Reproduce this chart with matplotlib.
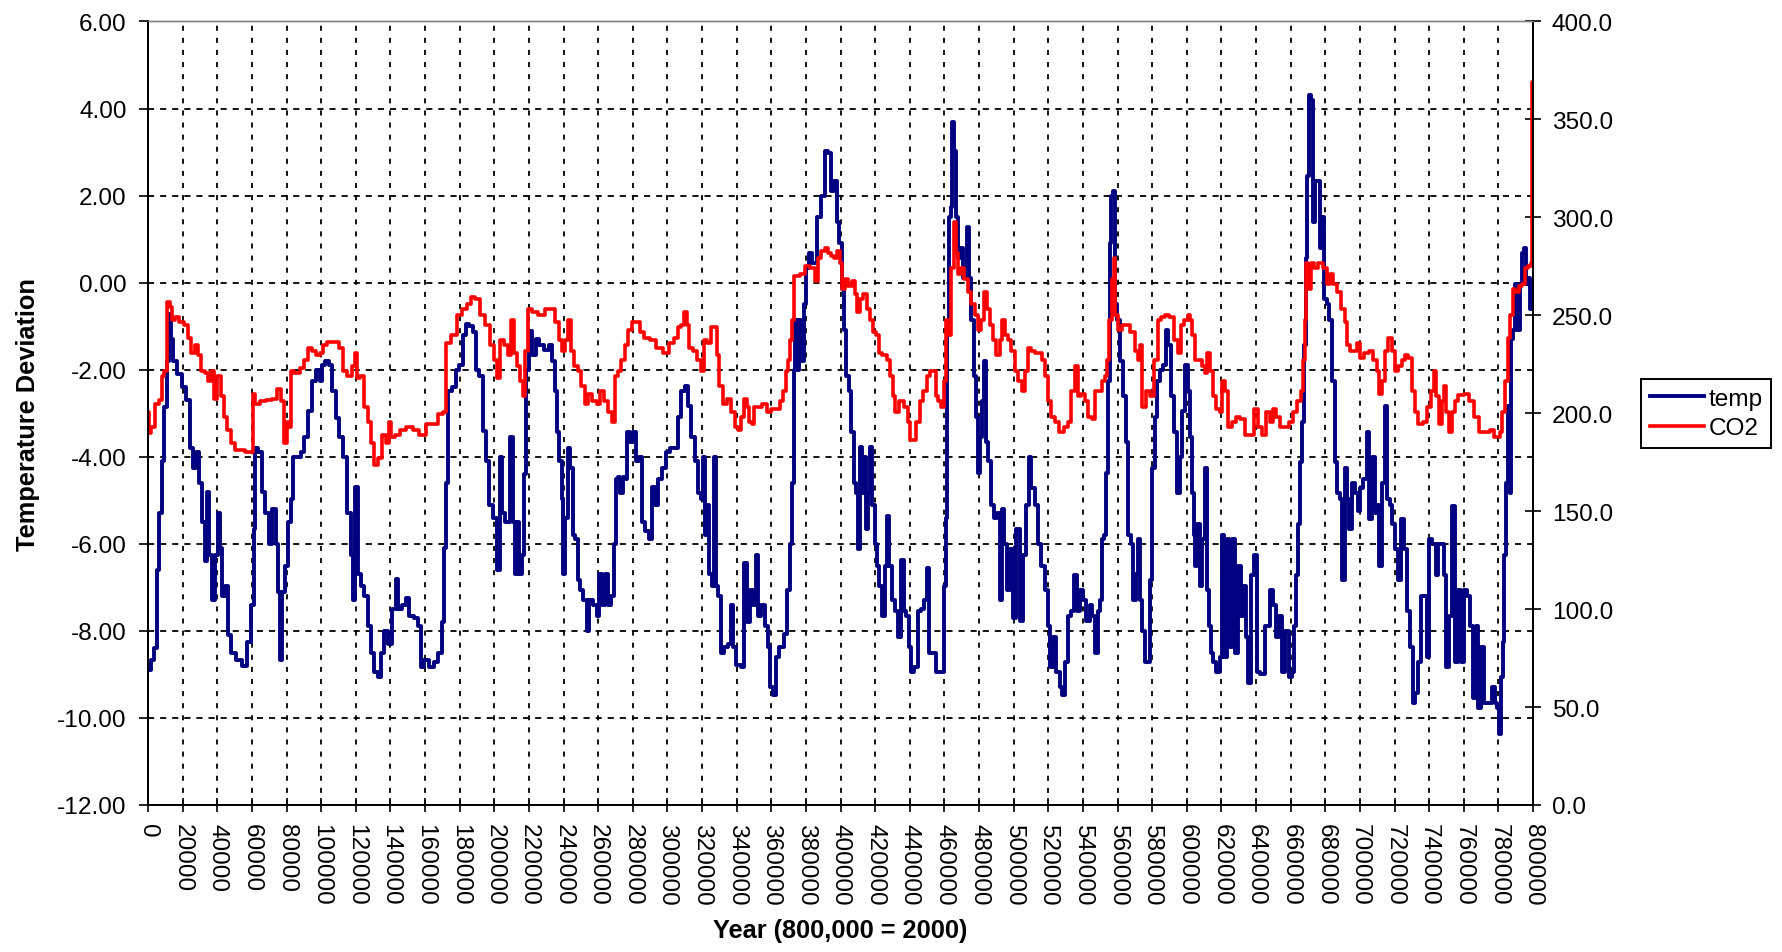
import matplotlib
matplotlib.use('Agg')
import matplotlib.pyplot as plt
from matplotlib.ticker import MultipleLocator, FormatStrFormatter

plt.rcParams['font.family'] = ['Liberation Sans', 'DejaVu Sans']

# temperature deviation (year, deg)
temp_year = [
    0, 2900, 4400, 5800, 7100, 8700, 10200, 11500, 12900, 13800, 15400, 17900, 21200, 23000,
    25000, 26900, 28800, 30200, 32100, 33700, 34600, 36000, 37500, 39400, 41000, 42300, 43600,
    45200, 46700, 49000, 52900, 55800, 58700, 60600, 61500, 62500, 64800, 66700, 68700, 70600,
    73100, 74600, 76000, 76900, 78300, 79800, 81700, 83300, 84600, 87500, 89400, 91300, 93700,
    96200, 98100, 100000, 101000, 103300, 105200, 107100, 109600, 111500, 113500, 116000,
    117900, 118300, 120200, 122100, 124000, 126000, 127900, 129800, 131700, 133700, 135600,
    137500, 139400, 142300, 143700, 145200, 148100, 150000, 151900, 154800, 156700, 158300,
    160600, 163500, 166300, 169200, 170600, 171700, 172500, 174000, 176900, 178800, 180800,
    182700, 184200, 186500, 188500, 190400, 192300, 194200, 196200, 198100, 200400, 202300,
    203700, 205200, 206700, 208100, 210000, 211000, 212500, 213800, 215200, 216700, 217700,
    219000, 220500, 222900, 224800, 227300, 230200, 232500, 234000, 235600, 236900, 238300,
    239400, 240200, 241700, 243300, 244600, 246000, 247500, 249000, 250400, 252300, 254200,
    255600, 258100, 260000, 261300, 263300, 264800, 266300, 268300, 269600, 270600, 272100,
    273500, 274800, 276300, 277300, 279200, 281100, 282500, 284400, 286000, 287900, 290800,
    291700, 293700, 295600, 298500, 300400, 302300, 305200, 307100, 308700, 311000, 312900,
    314800, 316700, 318700, 319600, 321000, 322100, 323500, 324800, 326300, 327300, 328700,
    330200, 331100, 333700, 336000, 337300, 338800, 340800, 343600, 345000, 346500, 348500,
    350400, 351700, 353300, 355200, 357100, 358700, 360000, 361900, 363500, 365800, 368300,
    370200, 371500, 372500, 373500, 374400, 375400, 376700, 378000, 379200, 381100, 382600,
    384900, 387500, 389800, 391700, 393700, 395200, 397100, 398700, 400000, 401200, 402500,
    403800, 405400, 406900, 408300, 409600, 410800, 411500, 412700, 414000, 415000, 416500,
    417900, 418800, 420400, 421700, 423100, 424600, 426200, 427500, 428500, 430400, 432700,
    434200, 435800, 437100, 438500, 440000, 441500, 443800, 445400, 447700, 449200, 450600,
    451500, 454400, 456300, 458800, 460200, 461200, 462100, 463100, 464000, 465000, 466500,
    467300, 468500, 469800, 471200, 472300, 473700, 475000, 476200, 477500, 478800, 480000,
    481300, 482300, 483300, 484200, 486200, 487700, 489600, 491500, 492300, 493800, 495400,
    497300, 498700, 500600, 502500, 504400, 506300, 508300, 509200, 511200, 513100, 515000,
    516900, 518800, 520800, 521700, 523700, 525600, 527500, 528800, 530400, 531900, 533800,
    535800, 537700, 539000, 541000, 542900, 544800, 546200, 547700, 549200, 550600, 551500,
    553100, 553900, 555000, 555800, 556900, 558300, 559200, 560200, 562100, 564100, 565400,
    567000, 568500, 569800, 571100, 572700, 573700, 575000, 576500, 578100, 579400, 580800,
    582300, 583300, 585200, 587100, 588500, 590000, 591500, 593400, 595400, 596700, 598100,
    599600, 601200, 602500, 603500, 604400, 605400, 606900, 608300, 609700, 611200, 612200,
    613100, 614700, 616000, 618000, 619900, 620800, 622400, 623700, 625100, 627000, 628200,
    630500, 632000, 633400, 634700, 635900, 637800, 639700, 641100, 644000, 646900, 648800,
    650800, 652100, 654100, 656000, 657900, 659800, 661400, 662400, 663300, 664900, 666200,
    667200, 668100, 669100, 670100, 671000, 672600, 673400, 674900, 676500, 677200, 678800,
    679700, 681700, 683000, 684600, 686100, 687500, 689400, 690300, 691900, 693200, 694600,
    696100, 698100, 699600, 701000, 702900, 704800, 706200, 707700, 709300, 710600, 711900,
    713500, 715100, 716400, 717800, 719300, 721200, 722800, 724700, 726600, 728000, 729900,
    731300, 732800, 734400, 735700, 737700, 739600, 740500, 742900, 744400, 745900, 747900,
    749300, 750600, 752500, 754100, 755600, 757500, 758900, 760800, 762700, 764700, 766000,
    767600, 769100, 771000, 772400, 775300, 777200, 778800, 780100, 781100, 782000, 783000,
    784000, 784900, 785900, 786900, 787800, 789200, 790300, 791700, 793100, 794200, 795600,
    796500, 798100, 798800, 799600,
]
temp_val = [
    -8.9, -8.66, -8.4, -6.6, -5.3, -4.1, -2.85, -1.8, -0.73, -1.3, -1.8, -2.1, -2.4, -2.7,
    -3.8, -4.25, -3.9, -4.6, -5.5, -6.4, -4.8, -6.25, -7.3, -6.25, -5.3, -6.1, -7.2,
    -6.96, -8.1, -8.5, -8.66, -8.8, -8.25, -7.4, -5.66, -3.8, -3.9, -4.8, -5.3, -6.0,
    -5.2, -6.0, -7.1, -8.66, -7.1, -6.5, -5.5, -4.96, -4.0, -4.0, -3.9, -3.55, -2.96,
    -2.25, -2.0, -2.25, -1.9, -1.8, -1.9, -2.5, -3.1, -3.55, -4.0, -5.3,
    -6.25, -7.3, -4.7, -6.7, -6.96, -7.2, -7.9, -8.5, -8.95, -9.07, -8.5,
    -8.0, -8.3, -7.5, -6.8, -7.5, -7.4, -7.25, -7.66, -7.7, -7.9, -8.84,
    -8.66, -8.84, -8.72, -8.5, -7.8, -6.1, -4.6, -2.5, -2.4, -2.0, -1.9,
    -1.2, -0.96, -1.0, -1.14, -2.0, -2.14, -3.4, -4.1, -5.1, -5.4, -6.6,
    -4.0, -5.3, -5.5, -5.5, -3.55, -5.5, -6.7, -5.5, -6.7, -6.25, -4.4,
    -2.0, -1.1, -1.67, -1.3, -1.43, -1.55, -1.43, -1.8, -2.5, -3.43, -4.1,
    -4.96, -6.7, -5.4, -3.8, -4.25, -5.8, -5.9, -6.84, -7.07, -7.3, -8.0,
    -7.3, -7.4, -7.66, -6.7, -7.4, -6.7, -7.4, -7.2, -6.0, -4.5, -4.46,
    -4.84, -4.46, -4.5, -3.43, -3.67, -3.43, -4.1, -4.0, -5.5, -5.7, -5.9,
    -4.7, -5.1, -4.5, -4.25, -3.9, -3.8, -3.8, -3.08, -2.5, -2.37, -2.84,
    -3.55, -4.1, -4.84, -4.96, -4.0, -5.8, -5.1, -6.7, -6.96, -4.0, -6.96,
    -7.2, -8.5, -8.37, -8.3, -7.4, -8.37, -8.78, -8.84, -6.43, -7.8, -7.07,
    -7.4, -6.25, -7.66, -7.4, -7.9, -8.37, -9.3, -9.48, -8.6, -8.37, -8.07,
    -7.07, -6.0, -4.6, -2.0, -0.85, -2.0, -0.85, -1.8, -0.5, 0.33, 0.68,
    0.45, 1.5, 2.0, 3.03, 2.97, 2.1, 2.33, 1.4, 0.92, -0.14, -1.08,
    -2.14, -2.5, -3.43, -4.6, -4.84, -6.13, -3.78, -4.84, -4.0, -5.66, -4.84,
    -3.78, -5.1, -6.0, -6.5, -6.96, -7.66, -6.5, -5.37, -6.5, -7.3, -7.54,
    -8.13, -6.37, -7.54, -7.66, -8.37, -8.95, -8.84, -7.54, -7.5, -7.3, -6.55,
    -8.5, -8.5, -8.95, -8.95, -6.96, -5.4, -1.2, 1.5, 1.74, 3.68, 3.03,
    1.5, 0.56, 0.8, 0.1, 0.33, 1.27, 0.1, -0.85, -2.14, -3.08, -4.37,
    -3.55, -2.73, -1.8, -3.67, -4.1, -5.1, -5.4, -5.3, -7.3, -5.2, -6.0,
    -7.07, -6.13, -7.7, -5.66, -7.78, -6.25, -5.1, -4.0, -4.72, -5.1, -6.0,
    -6.5, -7.07, -7.9, -8.84, -8.13, -8.95, -9.3, -9.48, -8.72, -7.66, -7.54,
    -6.72, -7.54, -7.07, -7.3, -7.78, -7.4, -7.66, -8.5, -7.54, -7.3, -5.9,
    -5.8, -4.37, -2.25, 0.92, 2.0, 2.1, -0.5, -0.85, -1.8, -2.6, -3.67,
    -5.8, -6.0, -7.3, -6.7, -5.9, -7.3, -8.0, -8.72, -8.72, -6.84, -4.25,
    -3.08, -2.25, -2.0, -1.9, -1.08, -1.43, -2.6, -3.43, -4.84, -4.0, -2.96,
    -1.9, -2.5, -3.55, -4.84, -5.8, -6.5, -5.55, -6.96, -5.9, -4.25, -7.07,
    -7.9, -8.5, -8.72, -8.95, -8.6, -5.8, -8.6, -5.9, -8.37, -5.9, -8.5,
    -6.5, -7.66, -6.96, -8.13, -9.2, -6.72, -6.25, -8.95, -9.0, -7.9, -7.07,
    -7.4, -8.13, -7.66, -8.95, -8.0, -9.07, -8.95, -7.9, -6.72, -5.55, -4.13,
    -3.2, -1.43, 0.56, 2.44, 4.32, 4.2, 1.39, 2.33, 2.33, 0.8, 1.5,
    -0.38, -0.5, -0.85, -2.25, -4.13, -4.84, -4.96, -6.84, -4.25, -4.96, -5.66,
    -4.6, -4.84, -5.25, -4.72, -4.5, -3.43, -5.43, -4.0, -5.3, -5.1, -6.5,
    -4.6, -2.84, -4.96, -5.1, -5.55, -6.13, -6.84, -5.43, -6.13, -7.54, -8.37,
    -9.66, -9.42, -8.72, -7.2, -7.2, -8.6, -5.9, -6.0, -6.72, -6.0, -6.0,
    -6.72, -8.84, -7.66, -5.14, -8.72, -7.07, -8.72, -7.07, -7.2, -7.9, -9.54,
    -7.9, -9.78, -8.37, -9.66, -9.66, -9.3, -9.66, -9.78, -10.36, -9.07, -8.25,
    -6.25, -4.6, -2.84, -4.84, -1.3, -1.08, -0.02, -1.08, -0.02, 0.68, 0.8,
    -0.02, 0.1, -0.6, -0.14,
]

# CO2 (ppmv), right axis
co2_year = [
    0, 1000, 2900, 4800, 7700, 8700, 10200, 11500, 13500, 14400, 16300, 19200, 22100, 24000,
    26000, 27900, 29800, 31700, 33700, 35600, 37500, 39000, 41000, 42900, 44800, 46700, 49000,
    51900, 54800, 57700, 60200, 61000, 62500, 66300, 70200, 73100, 76000, 77900, 79400, 80800,
    81700, 83300, 85600, 89400, 91300, 93700, 96200, 98100, 100000, 101900, 104800, 108700,
    111500, 113500, 116300, 119200, 120200, 121200, 123100, 126000, 127900, 129800, 131700,
    133700, 136500, 138500, 139800, 141300, 144200, 147100, 151000, 154800, 158700, 162500,
    166300, 169200, 171200, 173100, 176900, 179800, 182700, 185600, 187500, 190400, 193300,
    196200, 199000, 200400, 202300, 204200, 207100, 209000, 210400, 211900, 213800, 215800,
    217100, 218700, 220200, 223500, 227300, 231200, 234000, 236400, 238300, 239800, 241700,
    243300, 245200, 247100, 249000, 251300, 252900, 255200, 258100, 260000, 261900, 264400,
    266700, 268700, 270200, 272100, 274400, 276300, 278300, 280200, 283100, 285000, 287900,
    291700, 295600, 299400, 302300, 305200, 307100, 309000, 310600, 311900, 313300, 315800,
    318300, 320200, 321500, 324400, 326300, 328300, 329200, 330600, 333100, 336000, 337900,
    339800, 341700, 343600, 345200, 346500, 347900, 349400, 351000, 353300, 356100, 358700,
    361000, 363800, 365800, 367700, 368700, 370200, 371500, 372500, 373500, 375400, 378300,
    381100, 384000, 386000, 387500, 389800, 391700, 393700, 395600, 396700, 398700, 400600,
    401500, 403500, 405400, 407300, 408800, 410200, 412100, 414000, 416000, 417900, 419200,
    421200, 422700, 425600, 427500, 429400, 430800, 432300, 435200, 438100, 439600, 440400,
    442900, 444800, 446700, 448700, 450600, 452500, 454400, 455400, 457300, 459200, 460200,
    461200, 463100, 464600, 466000, 467300, 468500, 470400, 472700, 474600, 476500, 478500,
    480000, 482300, 483700, 485200, 487100, 489000, 491000, 492900, 493800, 495800, 497700,
    499600, 501500, 503500, 505800, 507700, 509200, 511200, 513100, 515000, 517300, 518800,
    520800, 522700, 525000, 527500, 530400, 532300, 534200, 536200, 537700, 540000, 541900,
    543900, 546200, 548100, 550000, 552000, 553500, 554500, 555800, 557300, 558300, 559200,
    561200, 563500, 566000, 568800, 570800, 572300, 573700, 575000, 577500, 580400, 582000,
    584300, 586200, 588100, 591000, 593800, 595800, 597700, 599600, 601200, 602500, 603900,
    605000, 607300, 609700, 611200, 612700, 614100, 616000, 618000, 619900, 621200, 622800,
    625100, 627600, 629500, 632400, 634700, 637800, 639700, 642100, 644400, 646900, 648800,
    650800, 652700, 655200, 657500, 660400, 662400, 664900, 666800, 667600, 668700, 669500,
    671000, 672600, 674900, 677200, 679700, 681700, 683600, 685500, 687500, 690300, 692300,
    693200, 695200, 698100, 699000, 701000, 703900, 706800, 708700, 710600, 712000, 713900,
    715400, 717300, 719300, 721200, 723200, 725100, 727000, 729000, 730900, 732800, 734700,
    737600, 740100, 742500, 743400, 744800, 746700, 747900, 749300, 750600, 752200, 753700,
    755600, 757900, 761800, 764700, 767600, 770500, 773400, 776300, 778200, 780100, 781500,
    783000, 784600, 785900, 787800, 788800, 790700, 792700, 794600, 796500, 798100, 799200,
    800000,
]
co2_val = [
    200.8, 190, 193, 204.7, 207, 219, 221.7, 257, 254, 247.8, 249, 246.5, 245, 238.6,
    230.8, 234.7, 229.5, 221.7, 220.4, 216.5, 221.7, 207.3, 219, 208.6, 198.2, 191.6, 185,
    181.2, 181.2, 180, 180, 210, 204.7, 206, 206.5, 207.3, 212.5, 206, 185, 195.6,
    193, 221.7, 220.4, 223, 227, 233.4, 232, 229.5, 230.8, 234.7, 236.5, 236.5,
    233.4, 221.7, 219, 224.3, 230.8, 217.8, 219, 203.4, 195.6, 185, 173.4,
    177.3, 189, 185, 195.6, 187.7, 189, 191.6, 193, 191.6, 189, 194.3,
    194.3, 199.5, 200.8, 236, 240, 250.4, 253, 255.6, 259.5, 258.2, 250.4,
    245, 234.7, 227, 217.8, 237.3, 234.7, 229.5, 247.8, 230.8, 224.3, 216.5,
    208.6, 232, 253, 251.7, 250.4, 253, 253, 246.5, 237.3, 232, 237.3,
    247.8, 232, 224.3, 221.7, 213.8, 204.7, 209.9, 206, 204.7, 211.2, 206,
    200.8, 195.6, 219, 221.7, 227, 234.7, 242.6, 246.5, 246.5, 241.3, 238.6,
    237.3, 233.4, 230.8, 236, 238.6, 243.9, 245, 251.7, 245, 233.4, 232,
    227, 221.7, 237.3, 236, 243.9, 243.9, 229.5, 213.8, 204.7, 207.3, 200.8,
    193, 191.6, 198.2, 207.3, 203.4, 195.6, 194.3, 203.4, 203.4, 204.7, 200.8,
    202, 202, 206, 211.2, 221.7, 227, 237.3, 247.8, 270, 270, 271.3,
    275.2, 273.9, 267.4, 279.1, 283, 284.3, 281.7, 280.4, 279.1, 283, 276.5,
    263.4, 268.7, 264.8, 267.4, 260.8, 251.7, 258.2, 260.8, 253, 247.8, 241.3,
    240, 230.8, 229.5, 227, 219, 208.6, 200.8, 206, 203.4, 195.6, 186.4,
    186.4, 195.6, 206, 211.2, 219, 221.7, 221.7, 208.6, 206, 203.4, 216.5,
    247.8, 240, 273.9, 297.4, 281.7, 271.3, 273.9, 268.7, 262.1, 255.6, 250.4,
    242.6, 247.8, 262.1, 253, 245, 237.3, 229.5, 237.3, 247.8, 240, 237.3,
    232, 221.7, 216.5, 211.2, 221.7, 233.4, 232, 230.8, 230.8, 227, 219,
    206, 198.2, 195.6, 190.3, 193, 195.6, 211.2, 224.3, 208.6, 209.9, 206,
    198.2, 196.9, 211.2, 211.2, 216.5, 219, 227, 247.8, 268.7, 279.1, 250.4,
    242.6, 245, 245, 241.3, 232, 227, 234.7, 203.4, 211.2, 208.6, 227,
    247.8, 249, 250.4, 249, 237.3, 230.8, 245, 247.8, 250.4, 247.8, 240,
    227, 227, 224.3, 220.4, 230.8, 221.7, 208.6, 202, 200.8, 216.5, 211.2,
    193, 195.6, 198.2, 196.9, 189, 189, 202, 193, 189, 200.8, 195.6,
    202, 198.2, 193, 193, 195.6, 200.8, 206, 211.2, 227, 247.8, 276.5,
    263.4, 276.5, 273.9, 276.5, 273.9, 266.1, 271.3, 266.1, 262.1, 253, 246.5,
    234.7, 232, 232, 236, 228.2, 230.8, 232, 227, 221.7, 209.9, 216.5,
    232, 238.6, 232, 221.7, 224.3, 227, 229.5, 228.2, 211.2, 200.8, 194.3,
    195.6, 203.4, 211.2, 221.7, 208.6, 194.3, 206, 213.8, 200.8, 190.3, 200.8,
    206, 209.1, 209.9, 206, 198.2, 190.3, 190.3, 191.6, 187.7, 187.7, 190.3,
    200.8, 216.5, 238.6, 250.4, 263.4, 262.1, 264.8, 266.1, 273.9, 275.2, 276.5,
    369.2,
]

x_ticks = list(range(0, 800001, 20000))


def main():
    fig = plt.figure(figsize=(17.82, 9.53), dpi=100)
    ax = fig.add_axes([0.0831, 0.1543, 0.7772, 0.8221])
    ax2 = ax.twinx()

    l1, = ax.plot(temp_year, temp_val, color='#000080', linewidth=2.8, label='temp',
                  drawstyle='steps-mid')
    l2, = ax2.plot(co2_year, co2_val, color='#ff0000', linewidth=2.6, label='CO2',
                   drawstyle='steps-mid')

    ax.set_xlim(0, 800000)
    ax.set_ylim(-12, 6)
    ax2.set_ylim(0, 400)

    ax.set_xticks(x_ticks)
    ax.set_xticklabels([str(v) for v in x_ticks], rotation=-90, fontsize=17.6)
    ax.yaxis.set_major_locator(MultipleLocator(2))
    ax.yaxis.set_major_formatter(FormatStrFormatter('%.2f'))
    ax2.yaxis.set_major_locator(MultipleLocator(50))
    ax2.yaxis.set_major_formatter(FormatStrFormatter('%.1f'))

    ax.tick_params(axis='y', direction='out', length=6.5, width=1.2, pad=9, labelsize=17.6)
    ax.tick_params(axis='x', direction='inout', length=9.5, width=1.2, pad=8)
    ax2.tick_params(axis='y', direction='inout', length=11, width=1.2, pad=8, labelsize=17.6)

    # Excel style grid: dashed horizontals, dotted verticals
    for y in range(-10, 6, 2):
        ax.axhline(y, color='black', linewidth=1.3, dashes=(3.4, 3.3), zorder=0.5)
    for x in x_ticks[1:-1]:
        ax.axvline(x, color='black', linewidth=1.3, dashes=(2.8, 3.9), zorder=0.5)

    for a in (ax, ax2):
        for side in ('left', 'right', 'bottom'):
            a.spines[side].set_color('black')
            a.spines[side].set_linewidth(1.4)
        a.spines['top'].set_color('#808080')
        a.spines['top'].set_linewidth(1.0)

    ax.set_ylabel('Temperature Deviation', fontsize=18.3, fontweight='bold', labelpad=12)
    ax.set_xlabel('Year (800,000 = 2000)', fontsize=18.3, fontweight='bold', labelpad=10)

    leg = fig.legend(handles=[l1, l2], loc='center left', bbox_to_anchor=(0.921, 0.565),
                     fontsize=17.6, frameon=True, fancybox=False, edgecolor='black',
                     framealpha=1, handlelength=2.2, handletextpad=0.2, borderpad=0.35,
                     labelspacing=0.3, borderaxespad=0)
    leg.get_frame().set_linewidth(1.4)

    fig.savefig('out.png', dpi=100)


if __name__ == '__main__':
    main()
